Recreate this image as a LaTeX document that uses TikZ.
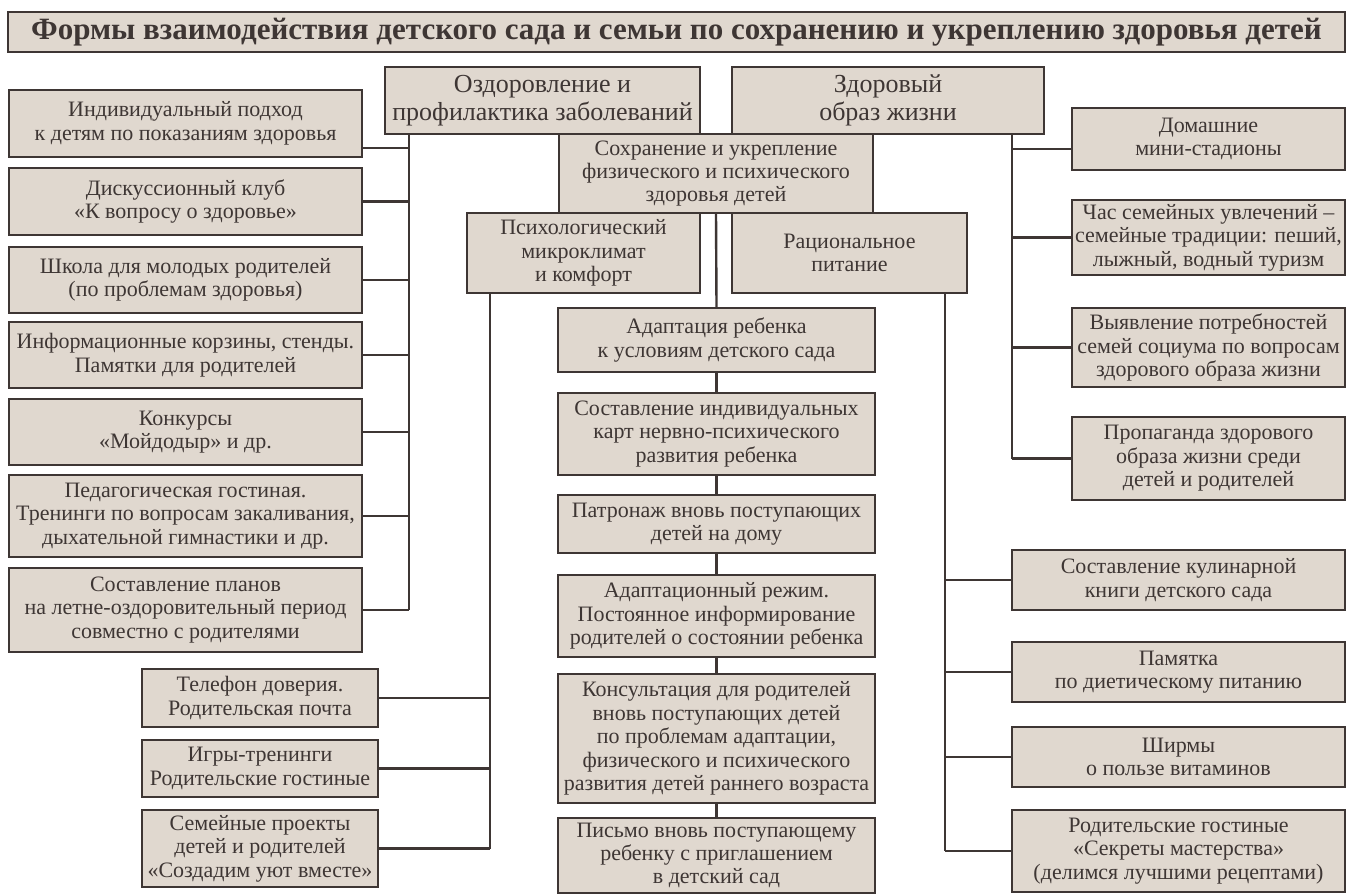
\documentclass[tikz,border=0pt]{standalone}
\usepackage{fontspec}
\setmainfont{Liberation Serif}
\usetikzlibrary{calc}
\definecolor{boxfill}{RGB}{224,216,207}
\definecolor{ink}{RGB}{62,54,52}

\begin{document}
\begin{tikzpicture}[x=0.5pt,y=-0.5pt,
  box/.style={draw=ink,fill=boxfill,line width=1.2pt,inner sep=1pt,align=center,text=ink,
    font=\fontsize{11}{11.7}\selectfont},
  head/.style={box,font=\fontsize{13}{13.8}\selectfont},
  dims/.style 2 args={minimum width=#1*0.5pt,minimum height=#2*0.5pt},
  link/.style={draw=ink,line width=1.2pt}]
\path[use as bounding box,fill=white] (0,0) rectangle (1348,895);

\node[box,dims={1337}{40},font=\bfseries\fontsize{15.5}{17}\selectfont] (title) at (676.5,32)
  {Формы взаимодействия детского сада и семьи по сохранению и укреплению здоровья детей};

% top of the tree
\node[head,dims={315}{67}] (ozd) at (542.5,100.5) {Оздоровление и\\профилактика заболеваний};
\node[head,dims={312}{67}] (zdor) at (888,100.5) {Здоровый\\образ жизни};
\node[box,dims={314}{79}] (sohr) at (716,173.5) {Сохранение и укрепление\\физического и психического\\здоровья детей};
\node[box,dims={233}{80}] (psych) at (583.5,253) {Психологический\\микроклимат\\и комфорт};
\node[box,dims={235}{80}] (rat) at (849.5,253) {Рациональное\\питание};

% left column
\node[box,dims={353}{67}] (ind) at (185.5,123.5) {Индивидуальный подход\\к детям по показаниям здоровья};
\node[box,dims={353}{67}] (klub) at (185.5,201.5) {Дискуссионный клуб\\«К вопросу о здоровье»};
\node[box,dims={353}{66}] (shkola) at (185.5,280) {Школа для молодых родителей\\(по проблемам здоровья)};
\node[box,dims={353}{66}] (inform) at (185.5,355) {Информационные корзины, стенды.\\Памятки для родителей};
\node[box,dims={353}{66}] (konk) at (185.5,432) {Конкурсы\\«Мойдодыр» и др.};
\node[box,dims={353}{82}] (pedag) at (185.5,516) {Педагогическая гостиная.\\Тренинги по вопросам закаливания,\\дыхательной гимнастики и др.};
\node[box,dims={353}{84}] (plan) at (185.5,610) {Составление планов\\на летне-оздоровительный период\\совместно с родителями};

\node[box,dims={236}{58}] (tel) at (260,698) {Телефон доверия.\\Родительская почта};
\node[box,dims={236}{57}] (igry) at (260,768.5) {Игры-тренинги\\Родительские гостиные};
\node[box,dims={236}{77}] (sem) at (260,848.5) {Семейные проекты\\детей и родителей\\«Создадим уют вместе»};

% centre column
\node[box,dims={317}{64}] (adapt) at (716.5,340) {Адаптация ребенка\\к условиям детского сада};
\node[box,dims={317}{82}] (karty) at (716.5,434) {Составление индивидуальных\\карт нервно-психического\\развития ребенка};
\node[box,dims={317}{58}] (patr) at (716.5,524) {Патронаж вновь поступающих\\детей на дому};
\node[box,dims={317}{82}] (rezhim) at (716.5,616) {Адаптационный режим.\\Постоянное информирование\\родителей о состоянии ребенка};
\node[box,dims={317}{129}] (kons) at (716.5,738.5) {Консультация для родителей\\вновь поступающих детей\\по проблемам адаптации,\\физического и психического\\развития детей раннего возраста};
\node[box,dims={317}{75}] (pismo) at (716.5,855.5) {Письмо вновь поступающему\\ребенку с приглашением\\в детский сад};

% right columns
\node[box,dims={273}{62}] (dom) at (1208.5,139) {Домашние\\мини-стадионы};
\node[box,dims={273}{75}] (chas) at (1208.5,237.5) {Час семейных увлечений –\\семейные традиции: пеший,\\лыжный, водный туризм};
\node[box,dims={273}{79}] (vyyav) at (1208.5,347.5) {Выявление потребностей\\семей социума по вопросам\\здорового образа жизни};
\node[box,dims={273}{83}] (prop) at (1208.5,458.5) {Пропаганда здорового\\образа жизни среди\\детей и родителей};

\node[box,dims={333}{60}] (kulin) at (1178.5,580) {Составление кулинарной\\книги детского сада};
\node[box,dims={333}{60}] (pam) at (1178.5,672) {Памятка\\по диетическому питанию};
\node[box,dims={333}{60}] (shirm) at (1178.5,757) {Ширмы\\о пользе витаминов};
\node[box,dims={333}{82}] (rodg) at (1178.5,851) {Родительские гостиные\\«Секреты мастерства»\\(делимся лучшими рецептами)};

% buses
\coordinate (lbus) at (409,0);
\coordinate (pbus) at (490,0);
\coordinate (rbus) at (945,0);
\coordinate (zbus) at (1012,0);

\draw[link] (ozd.south -| lbus) -- (plan.east -| lbus);
\draw[link] ([yshift=-12.25pt]ind.east) -- ([yshift=-12.25pt]ind.east -| lbus);
\foreach \n in {klub,shkola,inform,konk,pedag,plan}
  \draw[link] (\n.east) -- (\n.east -| lbus);

\draw[link] (psych.south -| pbus) -- (sem.east -| pbus);
\foreach \n in {tel,igry,sem}
  \draw[link] (\n.east) -- (\n.east -| pbus);

\draw[link] (zdor.south -| zbus) -- (prop.west -| zbus);
\draw[link] ([yshift=-5pt]dom.west) -- ([yshift=-5pt]dom.west -| zbus);
\foreach \n in {chas,vyyav,prop}
  \draw[link] (\n.west) -- (\n.west -| zbus);

\draw[link] (rat.south -| rbus) -- (rodg.west -| rbus);
\foreach \n in {kulin,pam,shirm,rodg}
  \draw[link] (\n.west) -- (\n.west -| rbus);

\draw[link] (sohr.south) -- (adapt.north);
\foreach \a/\b in {adapt/karty,karty/patr,patr/rezhim,rezhim/kons,kons/pismo}
  \draw[link] (\a.south) -- (\b.north);
\end{tikzpicture}
\end{document}
